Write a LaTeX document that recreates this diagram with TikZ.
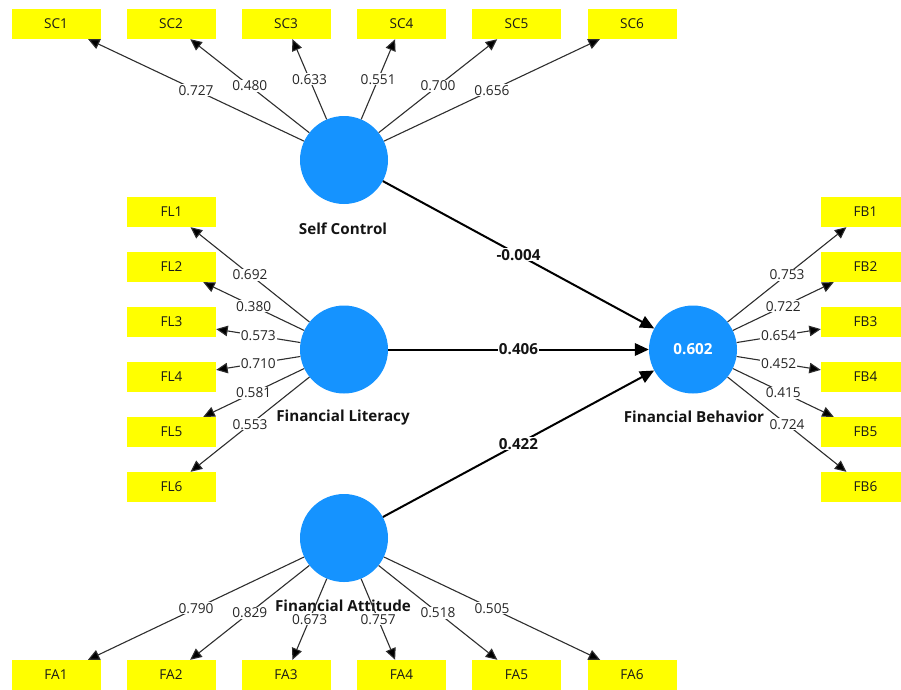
\documentclass[tikz,border=0pt]{standalone}
\usepackage{fontspec}
\setmainfont{Open Sans}
\usetikzlibrary{arrows.meta}
\definecolor{lvblue}{HTML}{1593FF}
\definecolor{mvyellow}{HTML}{FFFF00}
\definecolor{loadgray}{HTML}{2E2E2E}
\begin{document}
\begin{tikzpicture}[x=1pt,y=-1pt,
  mv/.style={fill=mvyellow, minimum width=89pt, minimum height=30pt, inner sep=0pt, font=\fontsize{13.6}{16}\selectfont, text=black!90},
  lv/.style={circle, fill=lvblue, minimum size=88pt, inner sep=0pt},
  lvname/.style={font=\bfseries\fontsize{15.2}{18}\selectfont, text=black!92},
  load/.style={draw=loadgray, line width=1.1pt, -{Triangle[length=11.5pt,width=10.5pt,fill=black]}},
  pathcoef/.style={draw=black, line width=2pt, -{Triangle[length=14pt,width=12.5pt]}},
  lbl/.style={fill=white, inner sep=1pt, font=\fontsize{13.7}{16}\selectfont, text=black!85},
  plbl/.style={fill=white, inner sep=1pt, font=\bfseries\fontsize{15.2}{18}\selectfont, text=black!92}]
\useasboundingbox (0,0) rectangle (901,689);
% latent variables
\node[lv] (sc) at (344,160) {};
\node[lv] (fl) at (344,349.5) {};
\node[lv] (fb) at (693,349.5) {\bfseries\fontsize{15.2}{18}\selectfont\color{white}0.602};
\node[lv] (fa) at (344,538) {};
\node[lvname] (scname) at (343,229) {Self Control};
\node[lvname] (flname) at (343,418) {Financial Literacy};
\node[lvname] (fbname) at (694,417) {Financial Behavior};
\node[lvname] (faname) at (343,606) {Financial Attitude};
% indicators
\foreach \i/\x in {1/56,2/171,3/286,4/401.5,5/516.5,6/632} {
  \node[mv] (sc\i) at (\x,24) {SC\i};
  \node[mv] (fa\i) at (\x,675) {FA\i};
}
\foreach \i/\y in {1/212,2/267,3/322,4/377,5/432,6/487} {
  \node[mv] (fl\i) at (171.5,\y) {FL\i};
  \node[mv] (fb\i) at (865.5,\y) {FB\i};
}
% loadings
\foreach \i/\v in {1/0.727,2/0.480,3/0.633,4/0.551,5/0.700,6/0.656}
  \draw[load] (sc) -- node[lbl] {\v} (sc\i);
\foreach \i/\v in {1/0.692,2/0.380,3/0.573,4/0.710,5/0.581,6/0.553}
  \draw[load] (fl) -- node[lbl] {\v} (fl\i);
\foreach \i/\v in {1/0.753,2/0.722,3/0.654,4/0.452,5/0.415,6/0.724}
  \draw[load] (fb) -- node[lbl] {\v} (fb\i);
\foreach \i/\v in {1/0.790,2/0.829,3/0.673,4/0.757,5/0.518,6/0.505}
  \draw[load] (fa) -- node[lbl] {\v} (fa\i);
% path coefficients
\draw[pathcoef] (sc) -- node[plbl] {-0.004} (fb);
\draw[pathcoef] (fl) -- node[plbl] {0.406} (fb);
\draw[pathcoef] (fa) -- node[plbl] {0.422} (fb);
\end{tikzpicture}
\end{document}
